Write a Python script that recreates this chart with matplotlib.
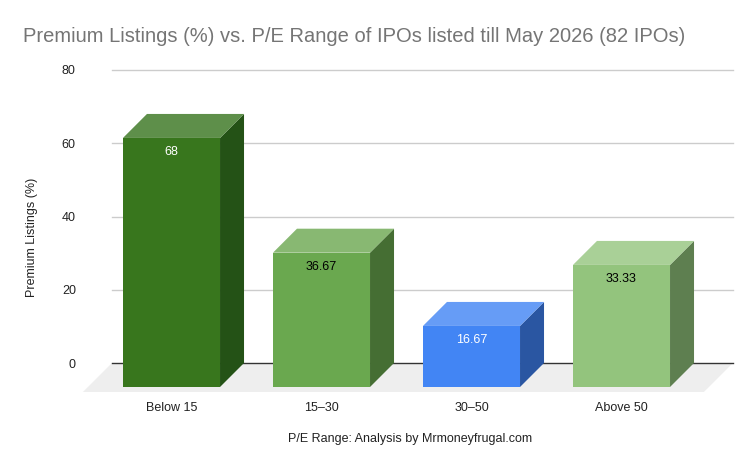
import matplotlib.pyplot as plt
from matplotlib.patches import Polygon

plt.rcParams["font.family"] = ["Liberation Sans", "DejaVu Sans"]

categories = ["Below 15", "15\u201330", "30\u201350", "Above 50"]
values = [68, 36.67, 16.67, 33.33]
labels = ["68", "36.67", "16.67", "33.33"]
yticks = [0, 20, 40, 60, 80]

front_colors = ["#38761d", "#6aa84f", "#4285f4", "#93c47d"]
top_colors = ["#5e8f4a", "#88b872", "#669cf6", "#a9d097"]
side_colors = ["#245216", "#456e33", "#2a56a2", "#5e7f50"]
label_colors = ["white", "black", "white", "black"]

# 3d look: depth offsets (x in category units, y in value units)
hw = 0.3235
dx = 0.16
dy = 6.55

fig = plt.figure(figsize=(7.56, 4.68), dpi=100)
W, H = 756, 468
left, right, top, bottom = 80, 740, 60, 392
ax = fig.add_axes([left / W, 1 - bottom / H, (right - left) / W, (bottom - top) / H])
ax.set_xlim((left - 195.5) / 150, (right - 195.5) / 150)
ax.set_ylim((363 - bottom) / 3.6625, (363 - top) / 3.6625)
for s in ax.spines.values():
    s.set_visible(False)

# floor + gridlines on the back plane
gx0, gx1 = -0.557, 3.583
fdx, fdy = 0.1937, 7.92
ax.add_patch(Polygon([(gx0, 0), (gx1, 0), (gx1 - fdx, -fdy), (gx0 - fdx, -fdy)],
                     closed=True, facecolor="#eeeeee", edgecolor="none", zorder=0))
for t in yticks[1:]:
    ax.plot([gx0, gx1], [t, t], color="#cccccc", lw=1, zorder=1)
ax.plot([gx0, gx1], [0, 0], color="#333333", lw=1.0, zorder=1)

for i, v in enumerate(values):
    xc = i
    fl, fr = xc - dx - hw, xc - dx + hw
    front = [(fl, -dy), (fr, -dy), (fr, v - dy), (fl, v - dy)]
    topf = [(fl, v - dy), (fr, v - dy), (fr + dx, v), (fl + dx, v)]
    side = [(fr, -dy), (fr + dx, 0), (fr + dx, v), (fr, v - dy)]
    ax.add_patch(Polygon(side, closed=True, facecolor=side_colors[i], edgecolor="none", zorder=3))
    ax.add_patch(Polygon(topf, closed=True, facecolor=top_colors[i], edgecolor="none", zorder=3))
    ax.add_patch(Polygon(front, closed=True, facecolor=front_colors[i], edgecolor="none", zorder=3))
    ax.annotate(labels[i], (xc - dx, v - dy), xytext=(0, -10), textcoords="offset points",
                ha="center", va="center", fontsize=9, color=label_colors[i], zorder=4)

ax.set_yticks(yticks)
ax.set_yticklabels([str(t) for t in yticks], fontsize=9, color="#222222")
ax.set_xticks([i - dx for i in range(len(categories))])
ax.set_xticklabels(categories, fontsize=9, color="#222222")
ax.tick_params(axis="both", length=0)
ax.tick_params(axis="y", pad=3)
ax.tick_params(axis="x", pad=7)
ax.set_xlabel("P/E Range: Analysis by Mrmoneyfrugal.com", fontsize=9, color="#222222", labelpad=14)
ax.set_ylabel("Premium Listings (%)", fontsize=9, color="#222222")
ax.yaxis.set_label_coords(-0.0636, 0.467)

fig.text(23 / W, 1 - 37 / H, "Premium Listings (%) vs. P/E Range of IPOs listed till May 2026 (82 IPOs)",
         fontsize=14.5, color="#757575", ha="left", va="center")

fig.savefig("out.png", dpi=100)
